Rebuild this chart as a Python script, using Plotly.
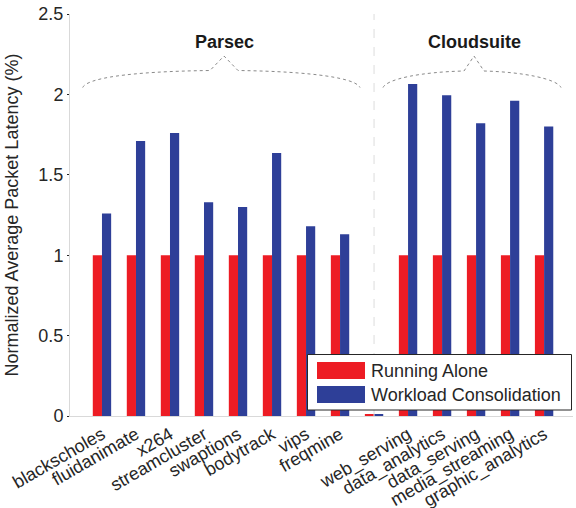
import plotly.graph_objects as go

categories = ["blackscholes", "fluidanimate", "x264", "streamcluster", "swaptions",
              "bodytrack", "vips", "freqmine", "",
              "web_serving", "data_analytics", "data_serving", "media_streaming",
              "graphic_analytics"]
running_alone = [1, 1, 1, 1, 1, 1, 1, 1, 0.01, 1, 1, 1, 1, 1]
workload_consolidation = [1.26, 1.71, 1.76, 1.33, 1.30, 1.635, 1.18, 1.13, 0.01,
                          2.065, 1.995, 1.82, 1.96, 1.80]
series_names = ["Running Alone", "Workload Consolidation"]
y_ticks = [0, 0.5, 1, 1.5, 2, 2.5]
y_ticklabels = ["0", "0.5", "1", "1.5", "2", "2.5"]

RED = "#ED1C24"
BLUE = "#2E3F98"
TXT = "#262626"
FONT = "Liberation Sans, Arial, sans-serif"
FS = 18

xpos = list(range(len(categories)))
tick_idx = [i for i, c in enumerate(categories) if c]

fig = go.Figure()
fig.add_trace(go.Bar(x=xpos, y=running_alone, name=series_names[0],
                     marker=dict(color=RED, line=dict(width=0))))
fig.add_trace(go.Bar(x=xpos, y=workload_consolidation, name=series_names[1],
                     marker=dict(color=BLUE, line=dict(width=0))))

W, H = 576, 508
# plot area in page pixels
PL, PR, PT, PB = 70, 573, 14, 416
L, R, T, B = PL, W - PR, PT, H - PB
PW, PH = PR - PL, PB - PT
xr = [-0.94, 13.85]
yr = [0, 2.5]

def px2x(px):
    return xr[0] + (px - PL) / PW * (xr[1] - xr[0])

def py2y(py):
    return yr[1] - (py - PT) / PH * (yr[1] - yr[0])

def pxp(px):
    return (px - PL) / PW

def pyp(py):
    return (PB - py) / PH

def brace(x_left, x_right, x_peak, peak_half, y_end, y_flat, y_peak, bend):
    s = "M {:.4f},{:.4f} ".format(px2x(x_left), py2y(y_end))
    s += "C {:.4f},{:.4f} {:.4f},{:.4f} {:.4f},{:.4f} ".format(
        px2x(x_left + 4), py2y(y_flat + 8), px2x(x_left + bend), py2y(y_flat + 1),
        px2x(x_peak - peak_half), py2y(y_flat))
    s += "L {:.4f},{:.4f} ".format(px2x(x_peak), py2y(y_peak))
    s += "L {:.4f},{:.4f} ".format(px2x(x_peak + peak_half), py2y(y_flat))
    s += "C {:.4f},{:.4f} {:.4f},{:.4f} {:.4f},{:.4f}".format(
        px2x(x_right - bend), py2y(y_flat + 1), px2x(x_right - 4), py2y(y_flat + 8),
        px2x(x_right), py2y(y_end))
    return s

shapes = [
    dict(type="path", xref="x", yref="y",
         path=brace(82.7, 360, 224, 14, 87.5, 70.5, 56, 45),
         line=dict(color="#8a8a8a", width=1, dash="dot")),
    dict(type="path", xref="x", yref="y",
         path=brace(383, 561, 474, 10, 87.5, 71, 56, 38),
         line=dict(color="#8a8a8a", width=1, dash="dot")),
    dict(type="line", xref="x", yref="paper", x0=8, x1=8, y0=0, y1=1,
         line=dict(color="#dcdcdc", width=1, dash="dash")),
    # legend box
    dict(type="rect", xref="paper", yref="paper",
         x0=pxp(307.5), x1=pxp(571.5), y0=pyp(410), y1=pyp(354.5),
         fillcolor="white", line=dict(color=TXT, width=1), layer="above"),
    dict(type="rect", xref="paper", yref="paper",
         x0=pxp(317), x1=pxp(365), y0=pyp(379), y1=pyp(362),
         fillcolor=RED, line=dict(width=0), layer="above"),
    dict(type="rect", xref="paper", yref="paper",
         x0=pxp(317), x1=pxp(365), y0=pyp(403), y1=pyp(386),
         fillcolor=BLUE, line=dict(width=0), layer="above"),
]

annotations = [
    dict(x=px2x(224), y=py2y(42), xref="x", yref="y", text="<b>Parsec</b>",
         showarrow=False, font=dict(size=FS, color="#1a1a1a", family=FONT)),
    dict(x=px2x(474), y=py2y(42), xref="x", yref="y", text="<b>Cloudsuite</b>",
         showarrow=False, font=dict(size=FS, color="#1a1a1a", family=FONT)),
    dict(x=pxp(369), y=pyp(370.5), xref="paper", yref="paper", text=series_names[0],
         xanchor="left", yanchor="middle", showarrow=False,
         font=dict(size=FS, color=TXT, family=FONT)),
    dict(x=pxp(369), y=pyp(394.5), xref="paper", yref="paper", text=series_names[1],
         xanchor="left", yanchor="middle", showarrow=False,
         font=dict(size=FS, color=TXT, family=FONT)),
]

fig.update_layout(
    width=W, height=H,
    margin=dict(l=L, r=R, t=T, b=B, autoexpand=False),
    paper_bgcolor="white", plot_bgcolor="white",
    font=dict(family=FONT, size=FS, color=TXT),
    barmode="group", bargap=0.46, bargroupgap=0.0,
    showlegend=False,
    xaxis=dict(range=xr, tickmode="array", tickvals=tick_idx,
               ticktext=[categories[i] for i in tick_idx],
               tickangle=-30, showline=True, linecolor="#d9d9d9", linewidth=1,
               ticks="", showgrid=False, zeroline=False, automargin=False,
               ticklabeloverflow="allow",
               tickfont=dict(size=FS, family=FONT, color=TXT)),
    yaxis=dict(range=yr, tickmode="array", tickvals=y_ticks, ticktext=y_ticklabels,
               showline=True, linecolor="#d9d9d9", linewidth=1,
               ticks="outside", ticklen=2, tickcolor=TXT,
               showgrid=False, zeroline=False, automargin=False,
               ticklabeloverflow="allow",
               tickfont=dict(size=FS, family=FONT, color=TXT),
               title=dict(text="Normalized Average Packet Latency (%)",
                          font=dict(size=FS, family=FONT, color=TXT))),
    shapes=shapes, annotations=annotations,
)

fig.write_html("out.html",
               config={"displayModeBar": False},
               post_script="document.body.style.margin='0';document.body.style.overflow='hidden';")
